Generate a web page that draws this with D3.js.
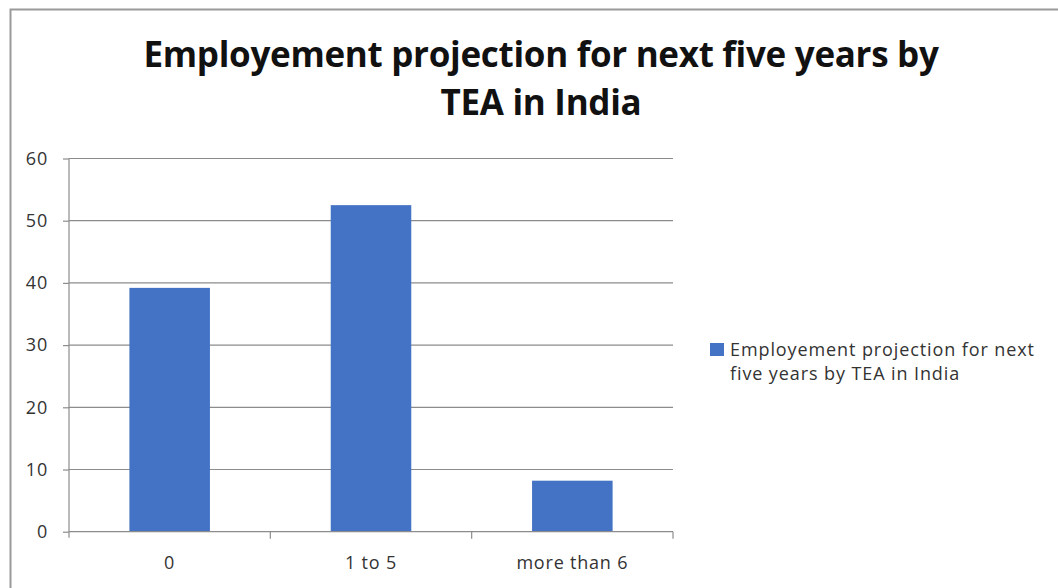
<!DOCTYPE html>
<html><head><meta charset="utf-8">
<script src="https://cdn.jsdelivr.net/npm/d3@7"></script>
<style>body{margin:0;background:#fff}svg{display:block}</style>
</head><body>
<svg id="c" width="1058" height="588"></svg>
<script>
const categories = ["0", "1 to 5", "more than 6"];
const values = [39.2, 52.5, 8.2];
const yTicks = [0, 10, 20, 30, 40, 50, 60];
const titleLines = ["Employement projection for next five years by", "TEA in India"];
const legendLines = ["Employement projection for next", "five years by TEA  in India"];

const svg = d3.select("#c");
const font = "'Open Sans', 'Noto Sans', sans-serif";
svg.append("rect").attr("x",10.5).attr("y",9.5).attr("width",1100).attr("height",700)
  .attr("fill","#fff").attr("stroke","#9a9a9a").attr("stroke-width",2);

const m = {l:69, r:673, t:158.5, b:531.7};
const x = d3.scaleBand().domain(categories).range([m.l, m.r]).paddingInner(0.6).paddingOuter(0.3);
const y = d3.scaleLinear().domain([0,60]).range([m.b, m.t]);

// gridlines
svg.append("g").selectAll("line").data(yTicks.filter(d=>d>0)).join("line")
  .attr("x1",m.l).attr("x2",m.r).attr("y1",d=>y(d)).attr("y2",d=>y(d))
  .attr("stroke","#8c8c8c").attr("stroke-width",1.2);

// bars
svg.append("g").selectAll("rect").data(values).join("rect")
  .attr("x",(d,i)=>x(categories[i])).attr("width",x.bandwidth())
  .attr("y",d=>y(d)).attr("height",d=>y(0)-y(d)).attr("fill","#4472c4");

// y axis
const ya = svg.append("g").attr("transform",`translate(${m.l},0)`)
  .call(d3.axisLeft(y).tickValues(yTicks).tickSize(6).tickPadding(15));
ya.select(".domain").attr("stroke","#8c8c8c").attr("stroke-width",1.2).attr("d",`M0,${m.t}V${m.b+6}`);
ya.selectAll(".tick line").attr("stroke","#8c8c8c").attr("stroke-width",1.2);
ya.selectAll("text").attr("font-family",font).attr("font-size",18).attr("letter-spacing",0.8).attr("fill","#333");

// x axis
const xa = svg.append("g").attr("transform",`translate(0,${m.b})`)
  .call(d3.axisBottom(x).tickSize(0).tickPadding(25));
xa.select(".domain").attr("stroke","#8c8c8c").attr("stroke-width",1.2).attr("d",`M${m.l},0H${m.r}`);
xa.selectAll("text").attr("font-family",font).attr("font-size",18).attr("letter-spacing",0.8).attr("fill","#333");
const bounds = categories.map(c=>x(c)-x.step()*x.paddingInner()/2).slice(1).concat([m.r]);
xa.append("g").selectAll("line").data(bounds).join("line")
  .attr("x1",d=>d).attr("x2",d=>d).attr("y1",0).attr("y2",7)
  .attr("stroke","#8c8c8c").attr("stroke-width",1.2);

// title
svg.append("g").selectAll("text").data(titleLines).join("text")
  .attr("x",541).attr("y",(d,i)=>67+i*48).attr("text-anchor","middle")
  .attr("font-family",font).attr("font-weight","bold").attr("font-size",35)
  .attr("letter-spacing",-0.3).attr("fill","#111").text(d=>d);

// legend
svg.append("rect").attr("x",710).attr("y",343).attr("width",14).attr("height",13).attr("fill","#4472c4");
svg.append("g").selectAll("text").data(legendLines).join("text")
  .attr("x",730).attr("y",(d,i)=>356+i*24)
  .attr("font-family",font).attr("font-size",18).attr("letter-spacing",0.9).attr("fill","#333").text(d=>d);
</script>
</body></html>
